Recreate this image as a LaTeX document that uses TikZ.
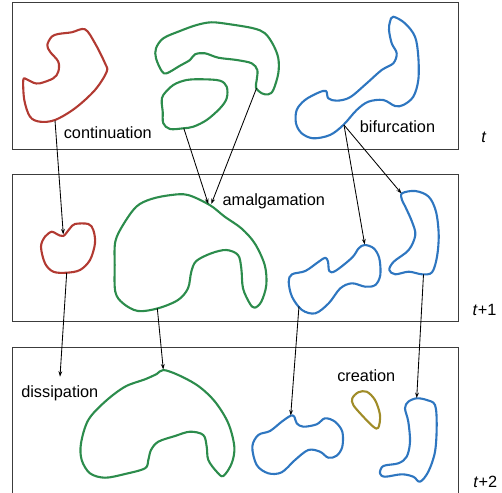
\documentclass[tikz,border=0pt]{standalone}
\usepackage{fontspec}
\setmainfont{Liberation Sans}
\usetikzlibrary{arrows.meta}
\definecolor{bred}{RGB}{178,58,50}
\definecolor{bgreen}{RGB}{44,140,76}
\definecolor{bblue}{RGB}{46,118,192}
\definecolor{bolive}{RGB}{160,140,40}
\definecolor{frame}{RGB}{60,60,60}
\tikzset{
  blob/.style={line width=2.1pt, line join=round},
  conn/.style={-{Stealth[length=5.5pt,width=3.8pt]}, line width=0.85pt, black},
  panel/.style={draw=frame, line width=0.9pt},
  lbl/.style={anchor=base, inner sep=0pt, font=\fontsize{16.3}{19}\selectfont},
}
\begin{document}
\begin{tikzpicture}[x=1pt,y=-1pt]
\useasboundingbox (0,0) rectangle (502,492);
\clip (0,0) rectangle (502,492);
% panels
\draw[panel] (12.7,2.7) rectangle (458.7,149);
\draw[panel] (12.7,174) rectangle (458.7,321);
\draw[panel] (12.7,347.3) rectangle (458.7,520);
% time labels
\node[lbl] (t0) at (484,142.3) {\textit{t}};
\node[lbl] (t1) at (484.5,315) {\textit{t}+1};
\node[lbl] (t2) at (485.3,487.7) {\textit{t}+2};
% event labels
\node[lbl] (lcont) at (107.8,138.7) {continuation};
\node[lbl] (lbif) at (397.5,132.7) {bifurcation};
\node[lbl] (lamal) at (273.8,205) {amalgamation};
\node[lbl] (ldiss) at (59.8,397.7) {dissipation};
\node[lbl] (lcrea) at (366.3,381.7) {creation};
% ---------- row t ----------
\draw[blob, bred] plot[smooth cycle, tension=0.55] coordinates {
 (85,29.3) (95,43.3) (105,63.3) (106.7,71.7) (95,90) (75,108.3) (55,120) (40,121.7)
 (30,116.7) (24.3,100) (23.3,80) (26.7,79.3) (33.3,82.7) (40,83.3) (53.3,78.3)
 (58.3,71.7) (58.3,61.7) (50,51.7) (47.3,45) (51.7,36.7) (58.3,34) (71.7,32.3)};
\draw[blob, bgreen] plot[smooth cycle, tension=0.55] coordinates {
 (156,48.3) (163.3,38.3) (180,31) (196.7,25) (211.7,22.3) (230,24.3) (253.3,28.3)
 (265,33.3) (273.3,45) (278.3,58.3) (278.3,73.3) (273.3,90) (268.3,94.3) (261.7,93.3)
 (256,87.7) (256.7,80) (257.3,70) (251.7,63.3) (236.7,60) (218.3,57.7) (205,53.3)
 (195,54.3) (190,60) (180,65.7) (166.7,73.3) (161.7,71) (156,58.3)};
\draw[blob, bgreen] plot[smooth cycle, tension=0.55] coordinates {
 (163.3,95) (173.3,85) (186.7,80) (203.3,79.3) (220,80.7) (226.7,86.7) (226.7,98.3)
 (220,108.3) (206.7,120) (193.3,126.7) (183.3,128.3) (170,129) (163.3,123.3)
 (162.7,111.7) (161.7,101.7)};
\draw[blob, bblue] plot[smooth cycle, tension=0.55] coordinates {
 (393.3,16.7) (405,23.3) (415,36.7) (418.3,56.7) (418.3,80) (413.3,96.7) (403.3,105)
 (395,106) (383.3,100) (368.3,101.7) (356.7,110) (343.3,125) (330,135) (313.3,138.3)
 (301.7,133.3) (296,123.3) (296.7,110) (305,100) (318.3,92.7) (326,91) (328.3,98.3)
 (336.7,100.7) (350,97.3) (366.7,83.3) (381.7,70) (393.3,63.3) (396.7,53.3)
 (391.7,43.3) (389,30) (390,21.7)};
% ---------- row t+1 ----------
\draw[blob, bred] plot[smooth cycle, tension=0.55] coordinates {
 (63.3,236) (70,228.3) (75,224) (88.3,224) (93.3,230) (95,243.3) (90,260) (80,270)
 (66.7,272.7) (53.3,271.7) (45,263.3) (41,246.7) (45,236.7) (51.7,231.7) (56.7,234)};
\draw[blob, bgreen] plot[smooth cycle, tension=0.55] coordinates {
 (209.7,205) (188,195) (171.3,195) (151.3,199) (136.3,206.7) (123,225) (115.3,241.7)
 (114.7,265) (115.3,291.7) (123,303.3) (138,311) (158,308.3) (178,300) (188,288.3)
 (191.3,271.7) (196.3,261) (211.3,253.3) (226.3,250) (238,255) (241.3,268.3)
 (243,288.3) (249.7,303.3) (254.7,307.7) (261.3,301.7) (266.3,285) (264.7,265)
 (254.7,243.3) (241.3,228.3) (224.7,216.7)};
\draw[blob, bblue] plot[smooth cycle, tension=0.55] coordinates {
 (364.7,245) (373.7,248.3) (379.3,258.3) (380.3,275) (375.3,285) (365.3,286.7)
 (352,283.3) (340.3,288.3) (328.7,303.3) (315.3,313.3) (302,310) (292,296.7)
 (288.7,281.7) (292,274.3) (305.3,271) (318.7,261.7) (325.3,257.7) (328,261.7)
 (329.3,271) (335.3,271) (352,257.7) (358.7,248.3)};
\draw[blob, bblue] plot[smooth cycle, tension=0.55] coordinates {
 (402,193.3) (415.3,191) (428.7,196.7) (436,211.7) (438.7,235) (437,256.7) (432,272.3)
 (422,274.3) (408.7,271.7) (395.3,274.3) (389.3,270) (393.7,261.7) (408.7,250)
 (415.3,235) (412,221.7) (405.3,206.7) (402,200)};
% ---------- row t+2 ----------
\draw[blob, bgreen] plot[smooth cycle, tension=0.55] coordinates {
 (163.3,370) (178.3,375) (198.3,386) (215,401.7) (228.3,423.3) (234.3,446.7)
 (231.7,463.3) (223.3,476) (216.7,471.7) (208.3,460) (206.7,446.7) (203.3,435)
 (190,431.7) (175,436) (158.3,441.7) (151,450) (148.3,460) (145,468.3) (125,474)
 (105,477.7) (90,473.3) (81.7,460) (81,443.3) (88.3,420) (105,401.7) (125,386.7)
 (145,379.3) (156.7,374)};
\draw[blob, bblue] plot[smooth cycle, tension=0.55] coordinates {
 (290.7,415.7) (294.3,416.7) (296.7,423.3) (303.3,426.7) (316.7,424.3) (325,418.3)
 (335,421.7) (342.3,431.7) (342.3,446.7) (336.7,455.7) (328.3,457.7) (320,451.7)
 (308.3,450) (295,460) (281.7,472.3) (268.3,473.3) (256.7,465) (252.3,446.7)
 (258.3,435) (270,431) (281.7,421.7)};
\draw[blob, bolive] plot[smooth cycle, tension=0.55] coordinates {
 (352.3,398.3) (358.3,392.3) (366.7,391.7) (375,400) (380,415) (378.3,427.7)
 (373.3,426.7) (361.7,415) (353.3,405)};
\draw[blob, bblue] plot[smooth cycle, tension=0.55] coordinates {
 (416.7,398.3) (426.7,400) (435,405) (436.7,425) (435,451.7) (428.3,471.7) (420,481.7)
 (413.3,476.7) (401.7,474.3) (385,476.7) (380,473.3) (383.3,466) (398.3,463.3)
 (406.7,456.7) (410,441.7) (408.3,421.7) (405,408.3) (408.3,401.7)};
% ---------- anchor points ----------
\coordinate (redA) at (55,120.5);
\coordinate (redB) at (63.3,234.5);
\coordinate (redC) at (66.7,272.7);
\coordinate (dissT) at (60,376.7);
\coordinate (gsmall) at (183.8,128.3);
\coordinate (gbig) at (256.5,88.3);
\coordinate (gmidT1) at (208.3,204);
\coordinate (gmidT2) at (211.3,204);
\coordinate (gmidB) at (157.3,308.3);
\coordinate (gbotT) at (163.3,369.5);
\coordinate (btop) at (344,125);
\coordinate (bm1T) at (364.7,244.5);
\coordinate (bm2T) at (401.5,193.5);
\coordinate (bm1B) at (299,306);
\coordinate (bm2B) at (423.5,274.3);
\coordinate (bb1T) at (290.7,415.5);
\coordinate (bb2T) at (416.7,398);
% ---------- connectors ----------
\draw[conn] (redA) -- (redB);
\draw[conn] (redC) -- (dissT);
\draw[conn] (gsmall) -- (gmidT1);
\draw[conn] (gbig) -- (gmidT2);
\draw[conn] (gmidB) -- (gbotT);
\draw[conn] (btop) -- (bm1T);
\draw[conn] (btop) -- (bm2T);
\draw[conn] (bm1B) -- (bb1T);
\draw[conn] (bm2B) -- (bb2T);
\end{tikzpicture}
\end{document}
